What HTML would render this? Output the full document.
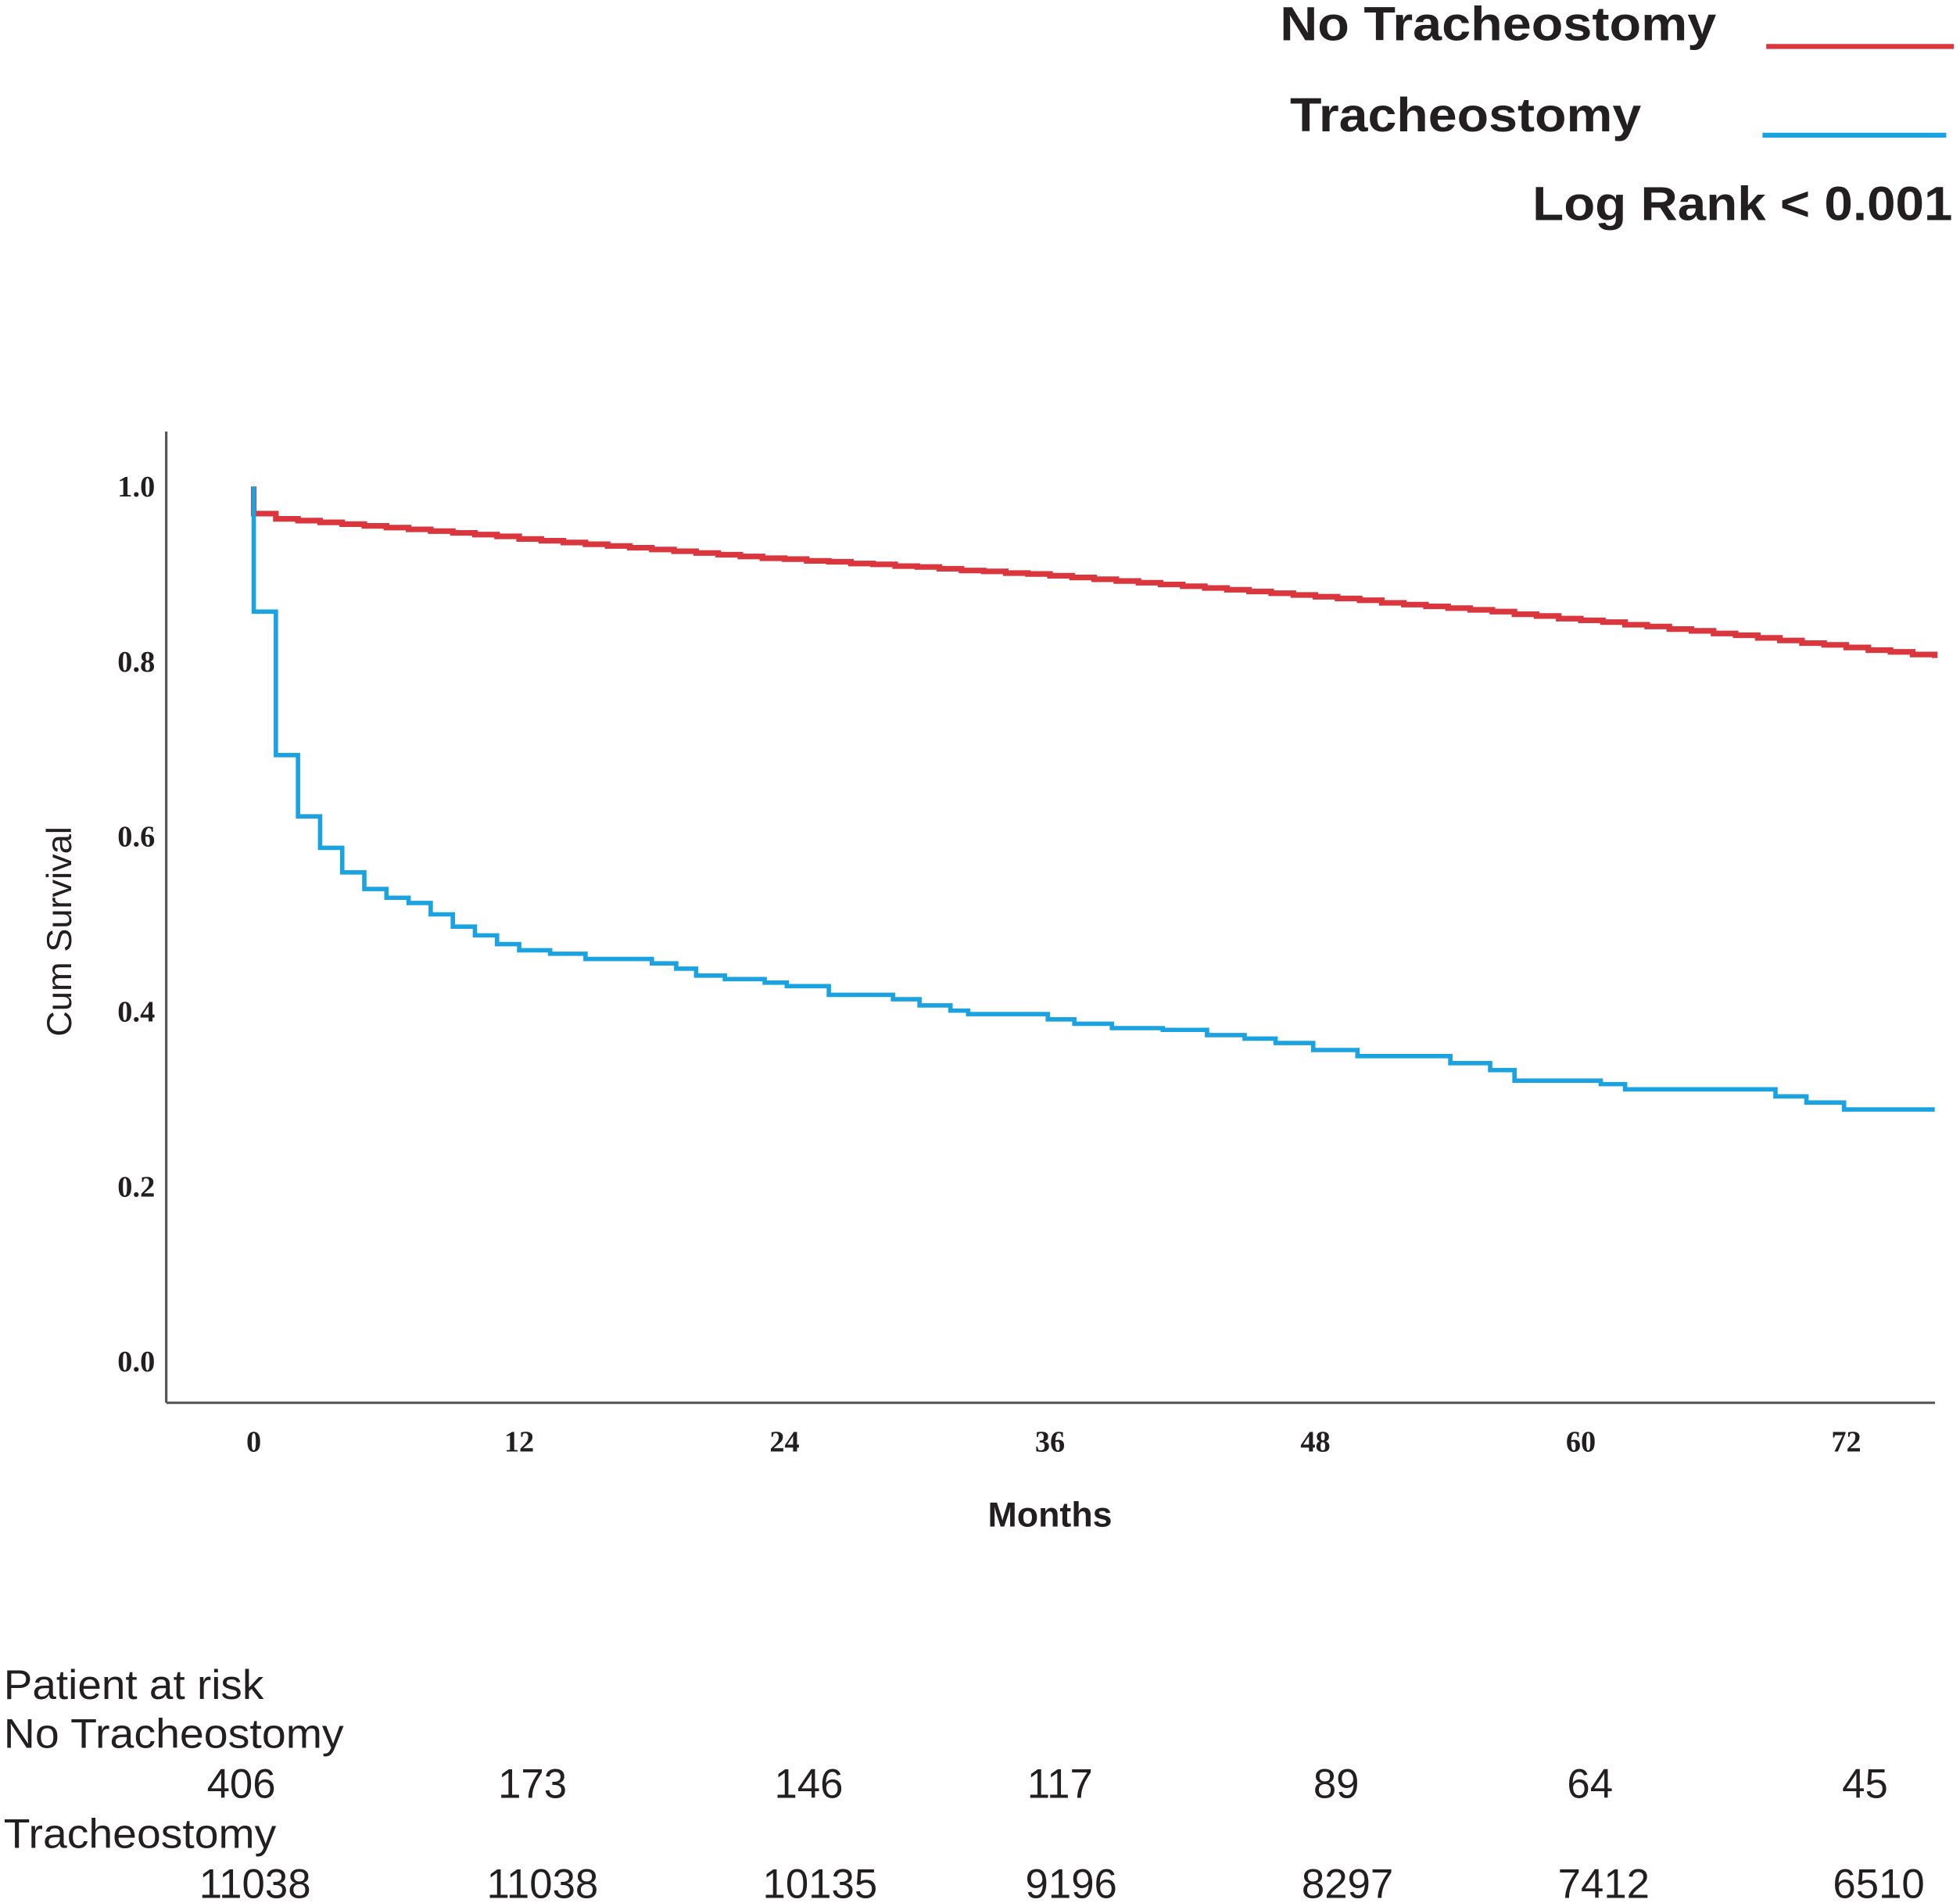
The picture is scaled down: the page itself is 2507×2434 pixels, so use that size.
<!DOCTYPE html>
<html><head><meta charset="utf-8"><style>
html,body{margin:0;padding:0;background:#fff;}
svg{display:block;}
.sans{font-family:"Liberation Sans",sans-serif;}
.serif{font-family:"Liberation Serif",serif;}
</style></head><body>
<svg id="chart" width="2507" height="2434" viewBox="0 0 1568 1522" xmlns="http://www.w3.org/2000/svg">
<rect width="1568" height="1522" fill="#fff"/>
<g id="legend">
<text class="sans" x="1024" y="32" font-size="38" font-weight="bold" fill="#231f20" textLength="349" lengthAdjust="spacingAndGlyphs">No Tracheostomy</text>
<line x1="1413" y1="37" x2="1563" y2="37" stroke="#d9363e" stroke-width="4"/>
<text class="sans" x="1032" y="105" font-size="38" font-weight="bold" fill="#231f20" textLength="281" lengthAdjust="spacingAndGlyphs">Tracheostomy</text>
<line x1="1410" y1="108" x2="1557" y2="108" stroke="#1aa3e0" stroke-width="4"/>
<text class="sans" x="1226" y="176" font-size="38" font-weight="bold" fill="#231f20" textLength="336" lengthAdjust="spacingAndGlyphs">Log Rank &lt; 0.001</text>
</g>
<line x1="133" y1="345" x2="133" y2="1122" stroke="#555" stroke-width="2"/>
<line x1="133" y1="1122" x2="1548" y2="1122" stroke="#555" stroke-width="2"/>
<g id="yticks"></g><g id="xticks"></g>
<g id="series"></g>
<text class="sans" x="840" y="1221" text-anchor="middle" font-size="28" font-weight="bold" fill="#231f20">Months</text>
<text class="sans" transform="translate(57,745) rotate(-90)" text-anchor="middle" font-size="28" fill="#231f20" textLength="168" lengthAdjust="spacingAndGlyphs">Cum Survival</text>
<g id="risk" class="sans" font-size="33" fill="#231f20">
<text x="3" y="1359" textLength="208" lengthAdjust="spacingAndGlyphs">Patient at risk</text>
<text x="3" y="1398" textLength="272" lengthAdjust="spacingAndGlyphs">No Tracheostomy</text>
<text x="3" y="1478" textLength="218" lengthAdjust="spacingAndGlyphs">Tracheostomy</text>
</g>
</svg>
<script>
const yTicks = [0.0, 0.2, 0.4, 0.6, 0.8, 1.0];
const yTickLabels = ["0.0", "0.2", "0.4", "0.6", "0.8", "1.0"];
const xTicks = [0, 12, 24, 36, 48, 60, 72];
const xTickLabels = ["0", "12", "24", "36", "48", "60", "72"];
const noTrachMonths = [0, 0, 1, 2, 3, 4, 5, 6, 7, 8, 9, 10, 11, 12, 13, 14, 15, 16, 17, 18, 19, 20, 21, 22, 23, 24, 25, 26, 27, 28, 29, 30, 31, 32, 33, 34, 35, 36, 37, 38, 39, 40, 41, 42, 43, 44, 45, 46, 47, 48, 49, 50, 51, 52, 53, 54, 55, 56, 57, 58, 59, 60, 61, 62, 63, 64, 65, 66, 67, 68, 69, 70, 71, 72, 73, 74, 75, 76];
const noTrachSurv = [1.0, 0.969, 0.963, 0.961, 0.959, 0.957, 0.955, 0.953, 0.951, 0.949, 0.947, 0.945, 0.943, 0.940, 0.938, 0.936, 0.934, 0.932, 0.930, 0.928, 0.926, 0.924, 0.922, 0.920, 0.918, 0.917, 0.915, 0.914, 0.912, 0.911, 0.909, 0.908, 0.906, 0.904, 0.903, 0.901, 0.900, 0.898, 0.896, 0.894, 0.892, 0.890, 0.888, 0.886, 0.884, 0.882, 0.880, 0.878, 0.876, 0.874, 0.872, 0.870, 0.867, 0.865, 0.863, 0.861, 0.859, 0.857, 0.854, 0.852, 0.849, 0.847, 0.845, 0.842, 0.840, 0.837, 0.835, 0.832, 0.830, 0.827, 0.824, 0.821, 0.819, 0.816, 0.813, 0.811, 0.808, 0.804];
const trachMonths = [0, 0, 1, 2, 3, 4, 5, 6, 7, 8, 9, 10, 11, 12, 13.4, 15, 18, 19.1, 20, 21.3, 23.1, 24.1, 26, 28.9, 30.1, 31.5, 32.3, 35.9, 37.1, 38.8, 41.1, 43.1, 44.8, 46.2, 47.9, 49.9, 54.1, 55.9, 57, 60.9, 62, 68.8, 70.2, 71.9, 76];
const trachSurv = [1.0, 0.857, 0.693, 0.623, 0.587, 0.559, 0.540, 0.530, 0.524, 0.511, 0.497, 0.487, 0.477, 0.470, 0.466, 0.460, 0.455, 0.449, 0.441, 0.437, 0.433, 0.429, 0.419, 0.414, 0.407, 0.401, 0.397, 0.391, 0.386, 0.381, 0.379, 0.373, 0.369, 0.364, 0.356, 0.349, 0.341, 0.333, 0.321, 0.317, 0.311, 0.303, 0.296, 0.288, 0.288];
const riskNoTrach = ["406", "173", "146", "117", "89", "64", "45"];
const riskTrach = ["11038", "11038", "10135", "9196", "8297", "7412", "6510"];
const NS = "http://www.w3.org/2000/svg";
const xs = m => 203 + m * (1477 - 203) / 72;
const ys = v => 1089 - v * 700;
function mk(tag, attrs, parent, txt){const e=document.createElementNS(NS,tag);for(const k in attrs)e.setAttribute(k,attrs[k]);if(txt!==undefined)e.textContent=txt;parent.appendChild(e);return e;}
const yg=document.getElementById('yticks'), xg=document.getElementById('xticks'), sg=document.getElementById('series'), rg=document.getElementById('risk');
yTicks.forEach((v,i)=>{
  const t=mk('text',{x:124,y:ys(v)+8,'text-anchor':'end','font-size':24,'font-weight':'bold','class':'serif',fill:'#231f20'},yg,yTickLabels[i]);
  
  
});
xTicks.forEach((v,i)=>{
  const t=mk('text',{x:xs(v),y:1161,'text-anchor':'middle','font-size':24,'font-weight':'bold','class':'serif',fill:'#231f20'},xg,xTickLabels[i]);
  
  
});
function stepPath(ms,ss){let d='M'+xs(ms[0])+','+ys(ss[0]);for(let i=1;i<ms.length;i++){d+=' H'+xs(ms[i])+' V'+ys(ss[i]);}return d;}
const pr=mk('path',{d:stepPath(noTrachMonths,noTrachSurv),fill:'none',stroke:'#d9363e','stroke-width':4.5},sg);


const pb=mk('path',{d:stepPath(trachMonths,trachSurv),fill:'none',stroke:'#1aa3e0','stroke-width':3.5},sg);


const rx1=[193,426,647,848,1069,1272,1492], rx2=[204,434,656,857,1078,1283,1503];
riskNoTrach.forEach((v,i)=>{
  const t=mk('text',{x:rx1[i],y:1438,'text-anchor':'middle'},rg,v);
  
  
});
riskTrach.forEach((v,i)=>{
  const t=mk('text',{x:rx2[i],y:1518,'text-anchor':'middle'},rg,v);
  
  
});
</script>
</body></html>
